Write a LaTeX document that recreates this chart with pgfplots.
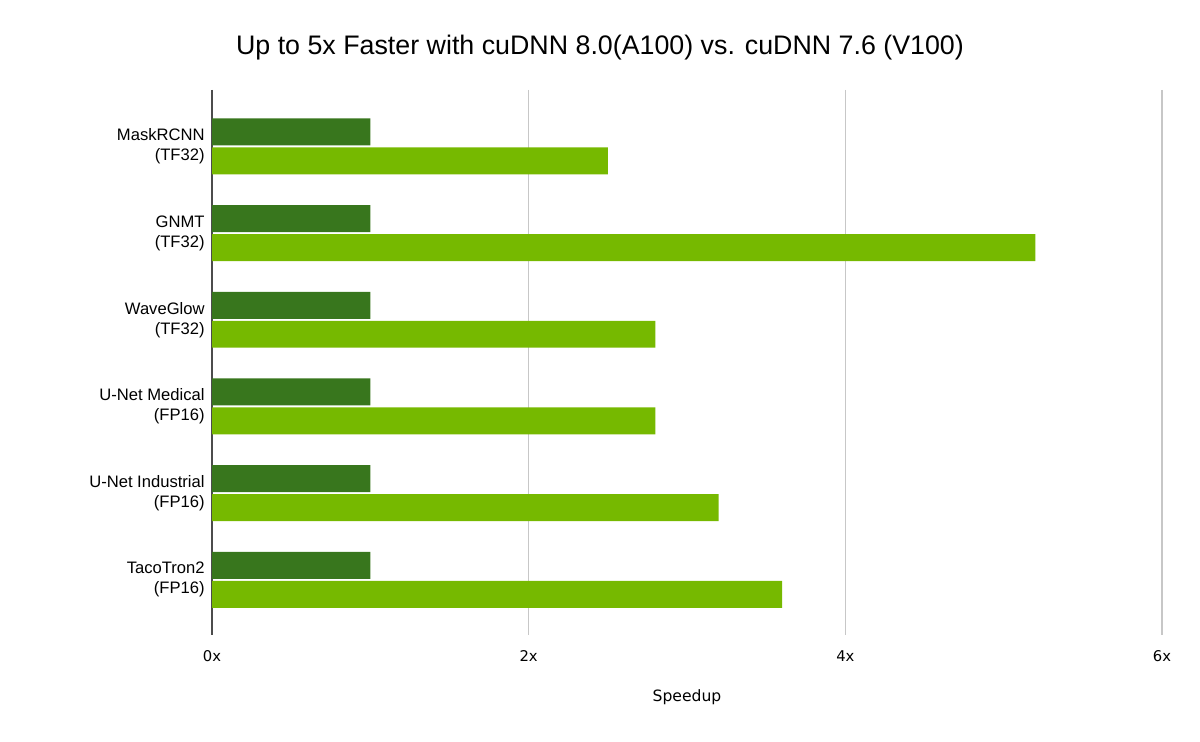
\documentclass[border=0pt]{standalone}
\usepackage{pgfplots}
\pgfplotsset{compat=1.18}
\usepackage{fontspec}
\setmainfont{Liberation Sans}
\newfontfamily\tickfont{DejaVu Sans}
\definecolor{darkg}{HTML}{38761D}
\definecolor{lightg}{HTML}{76B900}
\begin{document}
\begin{tikzpicture}
\path (0,0) rectangle (600bp,371bp);
\node[font=\fontsize{13.4bp}{15bp}\selectfont] at (300bp,347bp) {Up to 5x Faster with cuDNN 8.0(A100) vs. cuDNN 7.6 (V100)};
\begin{axis}[
  at={(106bp,53.5bp)}, anchor=south west,
  scale only axis, width=475bp, height=272.5bp,
  xbar, y dir=reverse,
  xmin=0, xmax=6, ymin=-0.65, ymax=5.636,
  axis line style={draw=none},
  xtick={0,2,4,6}, xticklabels={0x,2x,4x,6x},
  ytick={0,1,2,3,4,5},
  yticklabels={{MaskRCNN\\(TF32)},{GNMT\\(TF32)},{WaveGlow\\(TF32)},{U-Net Medical\\(FP16)},{U-Net Industrial\\(FP16)},{TacoTron2\\(FP16)}},
  major tick length=0pt,
  xmajorgrids, grid style={color=black!22, line width=0.6pt},
  extra x ticks={0}, extra x tick labels={},
  extra x tick style={grid style={color=black!70, line width=0.8pt}},
  xticklabel style={font=\tickfont\fontsize{7.4bp}{9bp}\selectfont, anchor=center, yshift=-10.5bp, inner sep=0pt},
  yticklabel style={font=\fontsize{8.3bp}{10bp}\selectfont, align=right, anchor=east, inner sep=0pt, xshift=-3.5bp},
  xlabel={Speedup},
  xlabel style={font=\tickfont\fontsize{7.8bp}{9bp}\selectfont, at={(rel axis cs:0.5,0)}, anchor=center, yshift=-31bp},
  bar width=0.311,
]
\addplot[xbar, bar shift=-0.167, fill=darkg, draw=none] coordinates {(1,0) (1,1) (1,2) (1,3) (1,4) (1,5)};
\addplot[xbar, bar shift=0.167, fill=lightg, draw=none] coordinates {(2.5,0) (5.2,1) (2.8,2) (2.8,3) (3.2,4) (3.6,5)};
\end{axis}
\end{tikzpicture}
\end{document}
